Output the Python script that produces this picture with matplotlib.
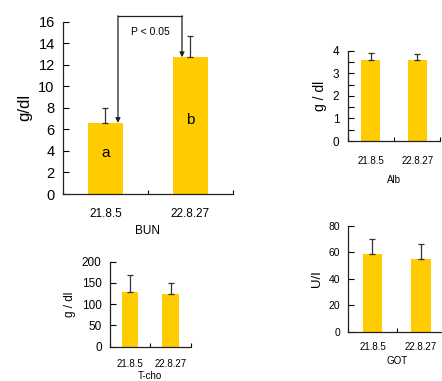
import numpy as np
import matplotlib
matplotlib.use("Agg")
import matplotlib.pyplot as plt

plt.rcParams['font.family'] = ['Liberation Sans', 'DejaVu Sans']

dates = ['21.8.5', '22.8.27']

bun = [6.6, 12.7]
bun_err = [1.35, 2.0]
alb = [3.6, 3.6]
alb_err = [0.3, 0.25]
tcho = [128, 124]
tcho_err = [40, 26]
got = [58.7, 55.0]
got_err = [11.0, 11.0]

bar_color = '#FFCC00'
narrow = ['Liberation Sans Narrow', 'Liberation Sans']

fig = plt.figure(figsize=(4.42, 3.81), dpi=100)


def panel(rect, vals, errs, ymax, step, xlab, ylab, fs_tick, fs_lab, fs_y,
          minor=None, fam=None, capsize=2.5, xpad=6, lpad=3):
    ax = fig.add_axes(rect)
    x = np.arange(len(vals)) + 0.5
    ax.bar(x, vals, width=0.41, color=bar_color, zorder=2)
    ax.errorbar(x, vals, yerr=[np.zeros(len(errs)), errs], fmt='none',
                ecolor='#333333', elinewidth=0.9, capsize=capsize, capthick=0.9, zorder=3)
    ax.set_xlim(0, 2)
    ax.set_ylim(0, ymax)
    ax.set_yticks(np.arange(0, ymax + step / 2, step))
    if minor:
        ax.set_yticks(np.arange(0, ymax + minor / 2, minor), minor=True)
    ax.set_xticks([0, 1, 2])
    ax.set_xticks(x, minor=True)
    ax.set_xticklabels(['', '', ''])
    ax.set_xticklabels(dates, minor=True, fontsize=fs_lab, family=fam or plt.rcParams['font.family'])
    ax.tick_params(axis='x', which='minor', length=0, pad=xpad)
    ax.tick_params(axis='x', which='major', direction='in', length=3, width=0.8)
    ax.tick_params(axis='y', which='both', direction='in', length=4, width=0.8,
                   labelsize=fs_tick, pad=6)
    for lbl in ax.get_yticklabels():
        if fam:
            lbl.set_family(fam)
    for s in ['top', 'right']:
        ax.spines[s].set_visible(False)
    for s in ['left', 'bottom']:
        ax.spines[s].set_linewidth(0.9)
        ax.spines[s].set_color('#222222')
    ax.set_xlabel(xlab, fontsize=fs_lab, labelpad=lpad)
    ax.set_ylabel(ylab, fontsize=fs_y, labelpad=4)
    return ax, x


# BUN
ax, x = panel([0.1425, 0.4908, 0.3846, 0.4522], bun, bun_err, 16, 2, 'BUN', 'g/dl',
              10.5, 8.5, 12, capsize=2.5, xpad=10, lpad=4)
ax.text(x[0], 3.8, 'a', ha='center', va='center', fontsize=11)
ax.text(x[1], 6.9, 'b', ha='center', va='center', fontsize=11)
xl, xr, ytop = x[0] + 0.147, x[1] - 0.1, 16.55
ax.plot([xl, xr], [ytop, ytop], color='#222222', lw=0.9, clip_on=False)
for xx, yy in [(xl, bun[0]), (xr, bun[1])]:
    ax.annotate('', xy=(xx, yy), xytext=(xx, ytop), annotation_clip=False,
                arrowprops=dict(arrowstyle='-|>', color='#222222', lw=0.9,
                                mutation_scale=7, shrinkA=0, shrinkB=0))
ax.text((xl + xr) / 2, 15.0, 'P < 0.05', ha='center', va='center', fontsize=7.5)

# Alb
panel([0.7867, 0.6299, 0.2095, 0.2370], alb, alb_err, 4, 1, 'Alb', 'g / dl',
      8.5, 7, 10, minor=0.5, fam=narrow, capsize=2, xpad=11, lpad=6)

# T-cho
panel([0.2489, 0.0900, 0.1826, 0.2231], tcho, tcho_err, 200, 50, 'T-cho', 'g / dl',
      8.5, 7, 8.5, fam=narrow, capsize=2, xpad=9, lpad=1.5)

# GOT
panel([0.788, 0.1286, 0.219, 0.279], got, got_err, 80, 20, 'GOT', 'U/I',
      7.5, 7, 9.5, capsize=2, xpad=7, lpad=3)

fig.savefig('out.png', dpi=100)
